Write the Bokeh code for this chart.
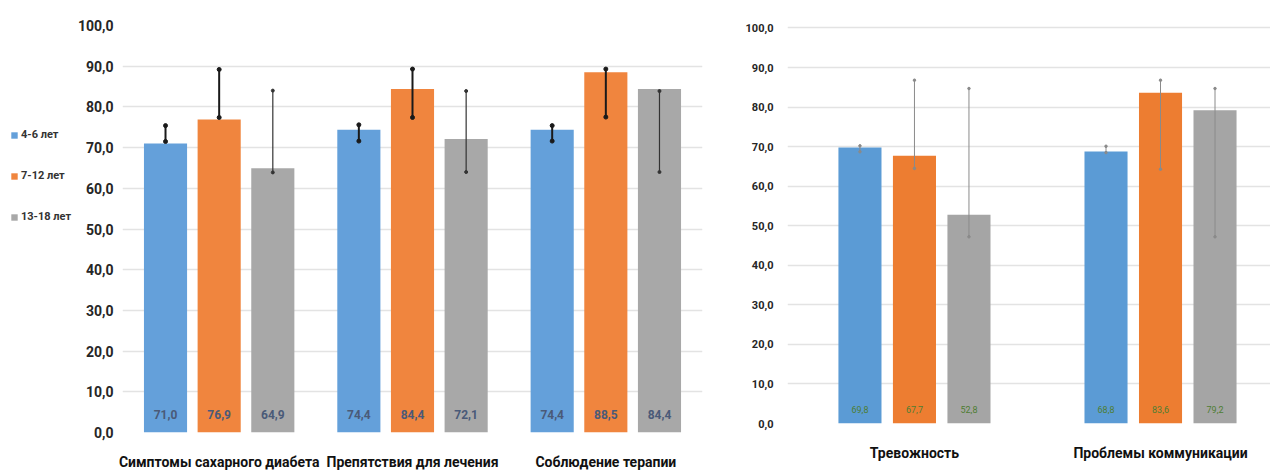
from bokeh.plotting import figure
from bokeh.layouts import row
from bokeh.models import Range1d, FixedTicker, Legend, LegendItem, ColumnDataSource
from bokeh.core.properties import value
from bokeh.embed import file_html
from bokeh.resources import INLINE

# ---------------- data ----------------
series_names = ["4-6 лет", "7-12 лет", "13-18 лет"]

left_categories = ["Симптомы сахарного диабета", "Препятствия для лечения", "Соблюдение терапии"]
left_4_6 = [71.0, 74.4, 74.4]
left_7_12 = [76.9, 84.4, 88.5]
left_13_18 = [64.9, 72.1, 84.4]
left_err_low_4_6 = [71.5, 71.6, 71.6]
left_err_high_4_6 = [75.4, 75.6, 75.4]
left_err_low_7_12 = [77.4, 77.4, 77.5]
left_err_high_7_12 = [89.2, 89.3, 89.3]
left_err_low_13_18 = [63.9, 64.0, 64.0]
left_err_high_13_18 = [84.0, 83.9, 83.9]

right_categories = ["Тревожность", "Проблемы коммуникации"]
right_4_6 = [69.8, 68.8]
right_7_12 = [67.7, 83.6]
right_13_18 = [52.8, 79.2]
right_err_low_4_6 = [68.7, 68.5]
right_err_high_4_6 = [70.2, 70.1]
right_err_low_7_12 = [64.5, 64.3]
right_err_high_7_12 = [86.8, 86.8]
right_err_low_13_18 = [47.2, 47.2]
right_err_high_13_18 = [84.7, 84.7]

y_ticks = [0, 10, 20, 30, 40, 50, 60, 70, 80, 90, 100]
y_tick_labels = ["0,0", "10,0", "20,0", "30,0", "40,0", "50,0", "60,0", "70,0", "80,0", "90,0", "100,0"]

# ---------------- style ----------------
FONT = "Roboto"
COLORS = ["#5B9BD5", "#ED7D31", "#A5A5A5"]
LEFT_COLORS = ["#64A0DA", "#F0853E", "#A8A8A8"]
GRID = "#E3E3E3"


def fmt(v):
    return ("%.1f" % v).replace(".", ",")


def base_fig(fl, fw, fr, ft, fh, fb, xr, ytop, ystandoff, yfont):
    p = figure(frame_width=fw, frame_height=fh, min_border_left=fl, min_border_right=fr,
               min_border_top=ft, min_border_bottom=fb, title=None,
               x_range=Range1d(*xr), y_range=Range1d(0, ytop),
               output_backend="svg", toolbar_location=None)
    p.outline_line_color = None
    p.background_fill_color = "white"
    p.border_fill_color = "white"
    p.xgrid.grid_line_color = None
    p.ygrid.grid_line_color = GRID
    p.ygrid.grid_line_width = 1.5
    p.yaxis.ticker = FixedTicker(ticks=y_ticks)
    p.yaxis.major_label_overrides = {t: l for t, l in zip(y_ticks, y_tick_labels)}
    p.yaxis.axis_line_color = None
    p.yaxis.major_tick_line_color = None
    p.yaxis.minor_tick_line_color = None
    p.yaxis.major_label_standoff = ystandoff
    p.yaxis.major_label_text_font = FONT
    p.yaxis.major_label_text_font_style = "bold"
    p.yaxis.major_label_text_font_size = yfont
    p.yaxis.major_label_text_color = "#262626"
    p.xaxis.axis_line_color = None
    p.xaxis.major_tick_line_color = None
    p.xaxis.minor_tick_line_color = None
    p.xaxis.major_label_text_font = FONT
    p.xaxis.major_label_text_font_style = "bold"
    p.xaxis.major_label_text_color = "#111111"
    return p


def draw_group(p, cats, series, lows, highs, step, width, colors, err_styles, label_style):
    n = len(cats)
    centers = [i + 0.5 for i in range(n)]
    for k, (vals, lo, hi) in enumerate(zip(series, lows, highs)):
        xs = [c + (k - 1) * step for c in centers]
        src = ColumnDataSource(dict(x=xs, top=vals, lo=lo, hi=hi,
                                    lab=[fmt(v) for v in vals], base=[0] * n))
        p.vbar(x="x", top="top", width=width, source=src, fill_color=colors[k], line_color=None)
        ec, ew, cap = err_styles[k]
        p.segment(x0="x", y0="lo", x1="x", y1="hi", source=src, line_color=ec, line_width=ew)
        p.scatter(x="x", y="lo", source=src, marker="circle", size=cap, fill_color=ec, line_color=ec)
        p.scatter(x="x", y="hi", source=src, marker="circle", size=cap, fill_color=ec, line_color=ec)
        p.text(x="x", y="base", text="lab", source=src, text_align="center",
               text_baseline="middle", y_offset=label_style[0],
               text_font=value(FONT), text_font_size=label_style[1],
               text_font_style=label_style[2], text_color=label_style[3])


# ---------------- legend panel (left of the first chart) ----------------
leg = figure(width=74, height=471, min_border=0, title=None, x_range=Range1d(0, 1),
             y_range=Range1d(0, 1), x_axis_location=None, y_axis_location=None,
             output_backend="svg", toolbar_location=None)
leg.outline_line_color = None
leg.xgrid.grid_line_color = None
leg.ygrid.grid_line_color = None
# swatch renderers kept outside the visible range; only their legend glyphs show
leg_renderers = [leg.vbar(x=[5], top=[1], width=0.1, fill_color=LEFT_COLORS[i], line_color=None)
                 for i in range(3)]
legend = Legend(items=[LegendItem(label=series_names[i], renderers=[leg_renderers[i]]) for i in range(3)],
                location=(10, 199), orientation="vertical", margin=0, padding=0,
                spacing=26, glyph_width=8, glyph_height=8, label_height=15,
                label_standoff=3, label_text_font=FONT, label_text_font_style="bold",
                label_text_font_size="11px", label_text_color="#333333",
                background_fill_alpha=0, border_line_color=None)
leg.add_layout(legend, "center")

# ---------------- left chart ----------------
left = base_fig(43, 580, 17, 25, 407, 39, (0, 3), 100, 3, "14px")
left.xaxis.ticker = FixedTicker(ticks=[0.5, 1.5, 2.5])
left.xaxis.major_label_overrides = {0.5: left_categories[0], 1.5: left_categories[1], 2.5: left_categories[2]}
left.xaxis.major_label_text_font_size = "14px"
left.xaxis.major_label_standoff = 15

draw_group(left, left_categories, [left_4_6, left_7_12, left_13_18],
           [left_err_low_4_6, left_err_low_7_12, left_err_low_13_18],
           [left_err_high_4_6, left_err_high_7_12, left_err_high_13_18],
           0.2775, 0.223, LEFT_COLORS,
           [("#1a1a1a", 2, 4), ("#1a1a1a", 2, 4), ("#333333", 1.2, 3)],
           (-18, "12px", "bold", "#4A5A78"))

# ---------------- right chart ----------------
right = base_fig(68, 483, 0, 25, 398, 48, (-0.016, 1.947), 100.63, 8, "11px")
right.xaxis.ticker = FixedTicker(ticks=[0.5, 1.5])
right.xaxis.major_label_overrides = {0.5: right_categories[0], 1.5: right_categories[1]}
right.xaxis.major_label_text_font_size = "14px"
right.xaxis.major_label_standoff = 15

draw_group(right, right_categories, [right_4_6, right_7_12, right_13_18],
           [right_err_low_4_6, right_err_low_7_12, right_err_low_13_18],
           [right_err_high_4_6, right_err_high_7_12, right_err_high_13_18],
           0.2215, 0.175, COLORS,
           [("#8a8a8a", 1, 2.5), ("#8a8a8a", 1, 2.5), ("#8a8a8a", 1, 2.5)],
           (-14, "9px", "normal", "#4E7D32"))

layout = row(leg, left, right, spacing=0)
open("out.html", "w").write(file_html(layout, INLINE))
